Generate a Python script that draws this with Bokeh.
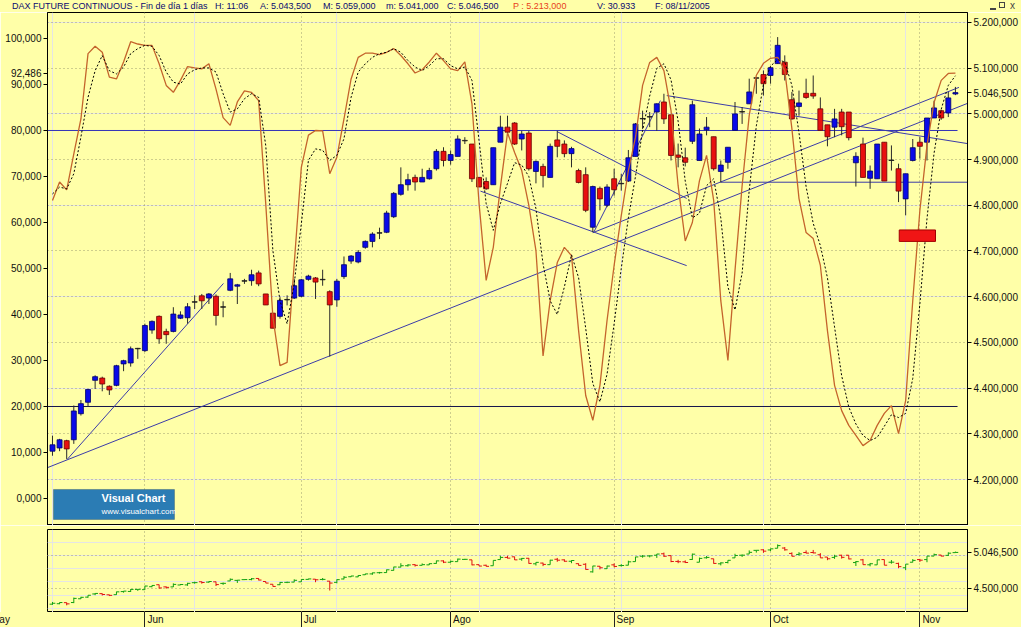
import numpy as np
from bokeh.plotting import figure
from bokeh.models import (Range1d, LinearAxis, FixedTicker, Grid, CustomJSTickFormatter,
                          Label, BoxAnnotation, ColumnDataSource, Div)
from bokeh.layouts import column
from bokeh.embed import file_html
from bokeh.resources import INLINE

# ---------------- data ----------------
opens = [4262, 4269, 4285, 4287, 4344, 4369, 4417, 4422, 4404, 4406,
         4453, 4455, 4486, 4482, 4527, 4557, 4524, 4524, 4553, 4554,
         4588, 4602, 4597, 4601, 4577, 4614, 4623, 4634, 4635, 4652,
         4606, 4564, 4557, 4593, 4597, 4601, 4638, 4641, 4637, 4611,
         4593, 4644, 4678, 4676, 4708, 4721, 4739, 4741, 4775, 4824,
         4845, 4861, 4851, 4858, 4880, 4918, 4898, 4907, 4941, 4934,
         4861, 4852, 4845, 4938, 4971, 4980, 4945, 4958, 4874, 4885,
         4861, 4943, 4934, 4913, 4876, 4867, 4752, 4837, 4800, 4858,
         4847, 4853, 4907, 4989, 4993, 5004, 5026, 4998, 4910, 4904,
         4940, 4898, 4965, 4950, 4874, 4894, 4964, 5004, 5022, 5078,
         5086, 5084, 5110, 5113, 5031, 5016, 5045, 5045, 5011, 4976,
         4971, 5004, 5004, 4893, 4934, 4859, 4858, 4938, 4898, 4880,
         4814, 4898, 4938, 4938, 4991, 5007, 5002, 5043.5]
highs = [4296, 4289, 4287, 4362, 4374, 4398, 4428, 4425, 4406, 4451,
         4462, 4491, 4488, 4541, 4548, 4559, 4530, 4577, 4568, 4586,
         4603, 4606, 4608, 4605, 4590, 4652, 4628, 4639, 4659, 4657,
         4606, 4564, 4599, 4603, 4639, 4639, 4648, 4643, 4659, 4614,
         4639, 4688, 4691, 4702, 4723, 4741, 4751, 4788, 4829, 4883,
         4869, 4867, 4880, 4882, 4923, 4927, 4920, 4953, 4949, 4934,
         4861, 4861, 4926, 4996, 4996, 4982, 4963, 4963, 4898, 4891,
         4935, 4963, 4942, 4928, 4880, 4883, 4843, 4841, 4846, 4880,
         4869, 4921, 4980, 5007, 5004, 5023, 5044, 4998, 4935, 4926,
         5029, 4968, 4993, 4950, 4898, 4927, 5026, 5015, 5077, 5080,
         5095, 5103, 5168, 5128, 5048, 5051, 5077, 5084, 5036, 4976,
         5011, 5011, 5004, 4916, 4948, 4887, 4934, 4938, 4931, 4891,
         4869, 4945, 4949, 4991, 5029, 5009, 5048, 5059]
lows = [4252, 4262, 4245, 4278, 4340, 4360, 4398, 4393, 4385, 4404,
        4437, 4447, 4464, 4479, 4519, 4497, 4497, 4522, 4551, 4541,
        4573, 4573, 4584, 4537, 4555, 4612, 4584, 4628, 4624, 4623,
        4582, 4531, 4552, 4581, 4595, 4599, 4635, 4595, 4624, 4469,
        4578, 4639, 4672, 4673, 4705, 4708, 4726, 4739, 4772, 4821,
        4832, 4832, 4851, 4856, 4876, 4885, 4889, 4907, 4934, 4851,
        4840, 4834, 4845, 4938, 4955, 4932, 4920, 4876, 4848, 4839,
        4861, 4905, 4905, 4883, 4848, 4785, 4741, 4789, 4796, 4821,
        4832, 4851, 4907, 4967, 4971, 4963, 4978, 4898, 4883, 4885,
        4934, 4898, 4953, 4876, 4850, 4880, 4964, 4978, 5022, 5044,
        5040, 5066, 5110, 5073, 4987, 4996, 5033, 5033, 4964, 4929,
        4949, 4953, 4942, 4841, 4861, 4836, 4858, 4853, 4876, 4807,
        4778, 4896, 4902, 4898, 4991, 4987, 4993, 5041]
closes = [4276, 4287, 4267, 4350, 4366, 4397, 4425, 4409, 4396, 4449,
          4460, 4486, 4487, 4537, 4546, 4508, 4517, 4562, 4560, 4578,
          4589, 4591, 4606, 4559, 4578, 4639, 4626, 4635, 4648, 4628,
          4582, 4531, 4592, 4594, 4624, 4637, 4645, 4632, 4638, 4582,
          4634, 4670, 4689, 4697, 4721, 4737, 4740, 4783, 4826, 4845,
          4856, 4851, 4861, 4876, 4918, 4898, 4911, 4945, 4942, 4858,
          4840, 4836, 4926, 4971, 4960, 4934, 4956, 4880, 4896, 4865,
          4929, 4929, 4913, 4924, 4850, 4789, 4841, 4814, 4840, 4834,
          4848, 4904, 4978, 4990, 4994, 5022, 4989, 4909, 4905, 4894,
          5020, 4956, 4971, 4880, 4888, 4927, 5000, 5005, 5048, 5079,
          5066, 5101, 5150, 5086, 4989, 5024, 5036, 5039, 4964, 4950,
          4989, 4972, 4948, 4907, 4861, 4875, 4934, 4853, 4899, 4831,
          4869, 4926, 4929, 4991, 5013, 4991, 5035, 5046.5]

# Stochastic %K (solid) and %D (dashed)
stoch_k = [64.8, 68.8, 67.1, 74.9, 82.5, 96.7, 98.3, 97.0, 91.6, 91.2,
           94.9, 99.3, 98.8, 98.5, 98.5, 94.5, 89.8, 88.3, 90.9, 93.9,
           93.6, 93.4, 94.5, 89.0, 82.8, 81.1, 86.2, 88.6, 88.3, 86.5,
           64.0, 39.4, 28.9, 29.6, 51.0, 72.0, 79.0, 80.0, 79.9, 70.6,
           74.2, 82.5, 91.2, 95.9, 96.8, 96.8, 96.5, 97.0, 97.8, 96.3,
           94.5, 92.5, 93.2, 94.9, 96.8, 95.2, 93.4, 93.0, 94.9, 85.8,
           64.1, 47.4, 54.6, 67.7, 79.5, 75.2, 71.3, 63.7, 53.9, 31.0,
           43.0, 51.3, 54.6, 52.8, 36.5, 22.4, 17.0, 24.6, 38.7, 50.7,
           61.5, 71.3, 78.5, 89.8, 94.8, 95.9, 93.0, 84.3, 68.0, 56.0,
           60.0, 69.1, 74.6, 64.8, 43.0, 30.0, 49.6, 68.0, 83.3, 92.0,
           94.6, 95.7, 95.9, 93.0, 80.4, 65.2, 57.8, 56.5, 50.7, 36.5,
           24.6, 19.1, 15.9, 13.7, 11.5, 12.6, 15.9, 18.5, 20.2, 14.1,
           21.3, 43.0, 62.6, 76.7, 86.1, 90.9, 92.4, 92.486]
stoch_d = [66.2, 67.7, 67.3, 70.6, 78.6, 87.2, 93.0, 96.3, 93.0, 92.3,
           93.8, 96.7, 97.8, 98.5, 98.3, 96.3, 92.7, 90.5, 90.1, 92.3,
           93.2, 93.6, 93.6, 92.7, 88.0, 84.0, 84.7, 86.9, 88.0, 87.2,
           76.7, 53.9, 43.0, 38.0, 46.7, 59.7, 73.5, 76.0, 75.7, 73.5,
           74.6, 78.2, 87.2, 92.7, 94.5, 95.9, 96.7, 97.0, 97.8, 97.0,
           95.2, 93.8, 93.0, 94.1, 95.6, 95.6, 94.1, 93.4, 93.8, 90.9,
           77.8, 64.1, 58.3, 64.1, 68.5, 73.0, 72.5, 70.0, 63.0, 51.0,
           43.0, 40.0, 46.0, 53.0, 48.0, 37.0, 25.0, 21.0, 27.0, 38.0,
           50.0, 61.0, 70.0, 80.0, 87.5, 93.5, 94.5, 91.0, 82.0, 69.0,
           61.0, 62.0, 68.0, 69.5, 61.0, 46.0, 41.0, 49.0, 67.0, 81.0,
           90.0, 94.0, 95.4, 94.9, 89.8, 79.5, 67.8, 59.8, 55.0, 48.0,
           37.3, 26.7, 19.9, 16.2, 13.7, 12.6, 13.3, 15.7, 18.2, 17.6,
           18.5, 26.1, 42.3, 60.8, 75.1, 84.6, 89.8, 91.9]

# month labels (bar index of first session of each month)
month_idx = [-9, 13, 35, 56, 79, 101, 122]
month_lbl = ["May", "Jun", "Jul", "Ago", "Sep", "Oct", "Nov"]

stoch_ticks = [0, 10, 20, 30, 40, 50, 60, 70, 80, 90, 100]
price_ticks = [4200, 4300, 4400, 4500, 4600, 4700, 4800, 4900, 5000, 5100, 5200]
mini_ticks = [4500, 5000]

# hand-drawn trend lines (bar index, price)
trend_x0 = [-0.7, 76.0, 2.07, 60.2, 71.0, 76.1, 86.4, 94.0]
trend_p0 = [4226, 4740, 4244, 4831, 4961, 4740, 5040, 4850.5]
trend_x1 = [128.7, 127.5, 24.05, 89.2, 89.2, 85.5, 128.7, 128.7]
trend_p1 = [5023, 5058, 4629, 4668, 4815, 5029, 4935, 4850.5]

# stochastic levels
level_vals = [80, 20]
level_cols = ["#3535B8", "#15154A"]
level_x0 = -0.7
level_x1 = 127.3

# red order marker
marker_x = [119.1, 124.2]
marker_p = [4721, 4746]

header_txt = ["DAX FUTURE CONTINUOUS - Fin de día 1 días", "H: 11:06", "A: 5.043,500",
              "M: 5.059,000", "m: 5.041,000", "C: 5.046,500", "P : 5.213,000",
              "V: 30.933", "F: 08/11/2005"]
header_x = [12, 215, 260, 323, 386, 447, 513, 597, 655]
header_col = ["#0A0A70"] * 6 + ["#E8401A"] + ["#0A0A70"] * 2

# ---------------- style ----------------
BG = "#FFFFA8"
FONT = "Liberation Sans"
W = 1021
BL, BR = 47, 54
FW = W - BL - BR
X0, X1 = -0.7, 128.7

fmt_js = r"""
const s = tick.toFixed(3);
const parts = s.split('.');
return parts[0].replace(/\B(?=(\d{3})+(?!\d))/g, '.') + ',' + parts[1];
"""

n = len(closes)
idx = list(range(n))
o = np.array(opens, float); c = np.array(closes, float)
h_ = np.array(highs, float); l_ = np.array(lows, float)
body_fill = []
body_line = []
for oo, cc in zip(o, c):
    if abs(cc - oo) < 2.5:
        body_fill.append("#1a1a1a"); body_line.append("#1a1a1a")
    elif cc > oo:
        body_fill.append("#0A0AE8"); body_line.append("#00006A")
    else:
        body_fill.append("#E81010"); body_line.append("#6A0000")
src = ColumnDataSource(dict(x=idx, o=o, h=h_, l=l_, c=c,
                            top=np.maximum(o, c), bot=np.minimum(o, c),
                            fill=body_fill, line=body_line))

xr = Range1d(X0, X1)

# ---------------- header (HTML strip) ----------------
spans = "".join(
    f'<span style="position:absolute;left:{x}px;top:0px;line-height:12px;color:{col};'
    f'white-space:nowrap;">{t}</span>'
    for t, x, col in zip(header_txt, header_x, header_col))
icons = ('<div style="position:absolute;left:990px;top:8px;width:6px;height:2px;background:#444;"></div>'
         '<div style="position:absolute;left:999px;top:2px;width:6px;height:6px;border:1px solid #444;"></div>'
         '<span style="position:absolute;left:1010px;top:0px;line-height:11px;font-size:10px;color:#444;">x</span>')
hd = Div(text=(f'<div style="position:relative;width:{W}px;height:12px;overflow:hidden;'
               f'background:{BG};font-family:\'{FONT}\';font-size:9px;">{spans}{icons}</div>'),
         width=W, height=12, margin=(0, 0, 0, 0), styles={"background-color": BG})

# ---------------- main panel ----------------
p = figure(width=W, height=513, output_backend="svg", toolbar_location=None,
           x_range=xr, y_range=Range1d(4099.4, 5221.8),
           x_axis_location=None, y_axis_location=None,
           min_border_left=BL, min_border_right=BR, min_border_top=0, min_border_bottom=0,
           background_fill_color=BG, border_fill_color=BG,
           outline_line_color="black", outline_line_width=1)
p.extra_y_ranges = {"stoch": Range1d(-5.87, 105.65)}

lax = LinearAxis(y_range_name="stoch", ticker=FixedTicker(ticks=stoch_ticks + [stoch_k[-1]]),
                 formatter=CustomJSTickFormatter(code="return tick.toFixed(3).replace('.', ',');"))
rax = LinearAxis(ticker=FixedTicker(ticks=price_ticks + [closes[-1]]),
                 formatter=CustomJSTickFormatter(code=fmt_js))
for ax in (lax, rax):
    ax.axis_line_color = "black"
    ax.major_tick_out = 4
    ax.major_tick_in = 0
    ax.minor_tick_line_color = None
    ax.major_label_text_font = FONT
    ax.major_label_text_font_size = "10px"
    ax.major_label_text_color = "#111111"
    ax.major_label_standoff = 2
p.add_layout(lax, "left")
p.add_layout(rax, "right")

p.add_layout(Grid(dimension=1, ticker=FixedTicker(ticks=price_ticks),
                  grid_line_color="#9C9C70", grid_line_dash="1 3", grid_line_width=1))
p.add_layout(Grid(dimension=0, ticker=FixedTicker(ticks=month_idx),
                  grid_line_color="#9C9C70", grid_line_dash="1 3", grid_line_width=1))

# stochastic levels
for lv, lc in zip(level_vals, level_cols):
    p.segment(x0=[level_x0], y0=[lv], x1=[level_x1], y1=[lv], y_range_name="stoch",
              line_color=lc, line_width=1)

# trend lines
p.segment(x0=trend_x0, y0=trend_p0, x1=trend_x1, y1=trend_p1,
          line_color="#3C3CA8", line_width=1)

# candles
p.segment(x0="x", y0="l", x1="x", y1="h", source=src, line_color="#2a2a2a", line_width=1)
p.vbar(x="x", width=0.7, top="top", bottom="bot", source=src,
       fill_color="fill", line_color="line", line_width=0.8)

# stochastic lines
p.line(idx, stoch_k, y_range_name="stoch", line_color="#C4642C", line_width=1.3)
p.line(idx, stoch_d, y_range_name="stoch", line_color="black", line_width=1, line_dash="2 2")

# red marker
p.quad(left=[marker_x[0]], right=[marker_x[1]], bottom=[marker_p[0]], top=[marker_p[1]],
       fill_color="#F01515", line_color="#A00000")

# Visual Chart logo
p.add_layout(BoxAnnotation(left=0.14, right=17.16, bottom=-4.57, top=1.96, y_range_name="stoch",
                           fill_color="#2B7CB4", fill_alpha=1, line_color="#0C2E50", line_width=1))
p.ellipse(x=[3.4], y=[-2.7], width=4.2, height=1.7, y_range_name="stoch",
          fill_color=None, line_color="#9FD0F0", line_width=1.5)
p.segment(x0=[2.6], y0=[-3.9], x1=[5.4], y1=[0.9], y_range_name="stoch",
          line_color="#F2E46A", line_width=2)
p.add_layout(Label(x=6.9, y=0.1, y_range_name="stoch", text="Visual Chart",
                   text_font=FONT, text_font_size="11px", text_font_style="bold",
                   text_color="white", text_baseline="middle"))
p.add_layout(Label(x=6.9, y=-2.9, y_range_name="stoch", text="www.visualchart.com",
                   text_font=FONT, text_font_size="8px", text_color="white",
                   text_baseline="middle"))

# ---------------- bottom panel ----------------
b = figure(width=W, height=87, output_backend="svg", toolbar_location=None,
           x_range=xr, y_range=Range1d(4136, 5394),
           x_axis_location=None, y_axis_location=None,
           min_border_left=BL, min_border_right=BR, min_border_top=4, min_border_bottom=0,
           background_fill_color=BG, border_fill_color=BG,
           outline_line_color="black", outline_line_width=1)
brax = LinearAxis(ticker=FixedTicker(ticks=[4500, closes[-1]]), formatter=CustomJSTickFormatter(code=fmt_js))
brax.axis_line_color = "black"
brax.major_tick_out = 4
brax.major_tick_in = 0
brax.minor_tick_line_color = None
brax.major_label_text_font = FONT
brax.major_label_text_font_size = "10px"
brax.major_label_text_color = "#111111"
brax.major_label_standoff = 2
b.add_layout(brax, "right")
b.add_layout(Grid(dimension=1, ticker=FixedTicker(ticks=mini_ticks),
                  grid_line_color="#9C9C70", grid_line_dash="1 3"))
b.add_layout(Grid(dimension=0, ticker=FixedTicker(ticks=month_idx),
                  grid_line_color="#9C9C70", grid_line_dash="1 3"))

bar_col = ["#10A010" if cc >= oo else "#E01010" for oo, cc in zip(o, c)]
bsrc = ColumnDataSource(dict(x=idx, xl=[i - 0.4 for i in idx], xr=[i + 0.4 for i in idx],
                             o=o, h=h_, l=l_, c=c, col=bar_col))
b.segment(x0="x", y0="l", x1="x", y1="h", source=bsrc, line_color="col", line_width=1)
b.segment(x0="xl", y0="o", x1="x", y1="o", source=bsrc, line_color="col", line_width=1)
b.segment(x0="x", y0="c", x1="xr", y1="c", source=bsrc, line_color="col", line_width=1)

# ---------------- month axis row (HTML strip) ----------------
row_html = ""
for mi, ml in zip(month_idx, month_lbl):
    sx = BL + (mi - X0) * FW / (X1 - X0)
    row_html += (f'<div style="position:absolute;left:{sx:.1f}px;top:0px;width:1px;height:15px;'
                 f'background:#222;"></div>')
    row_html += (f'<span style="position:absolute;left:{sx + 3:.1f}px;top:2px;line-height:12px;'
                 f'color:#111;white-space:nowrap;">{ml}</span>')
mr = Div(text=(f'<div style="position:relative;width:{W}px;height:15px;overflow:hidden;'
               f'background:{BG};font-family:\'{FONT}\';font-size:10px;">{row_html}</div>'),
         width=W, height=15, margin=(0, 0, 0, 0), styles={"background-color": BG})

layout = column(hd, p, b, mr, spacing=0)
open("out.html", "w").write(file_html(layout, INLINE))
